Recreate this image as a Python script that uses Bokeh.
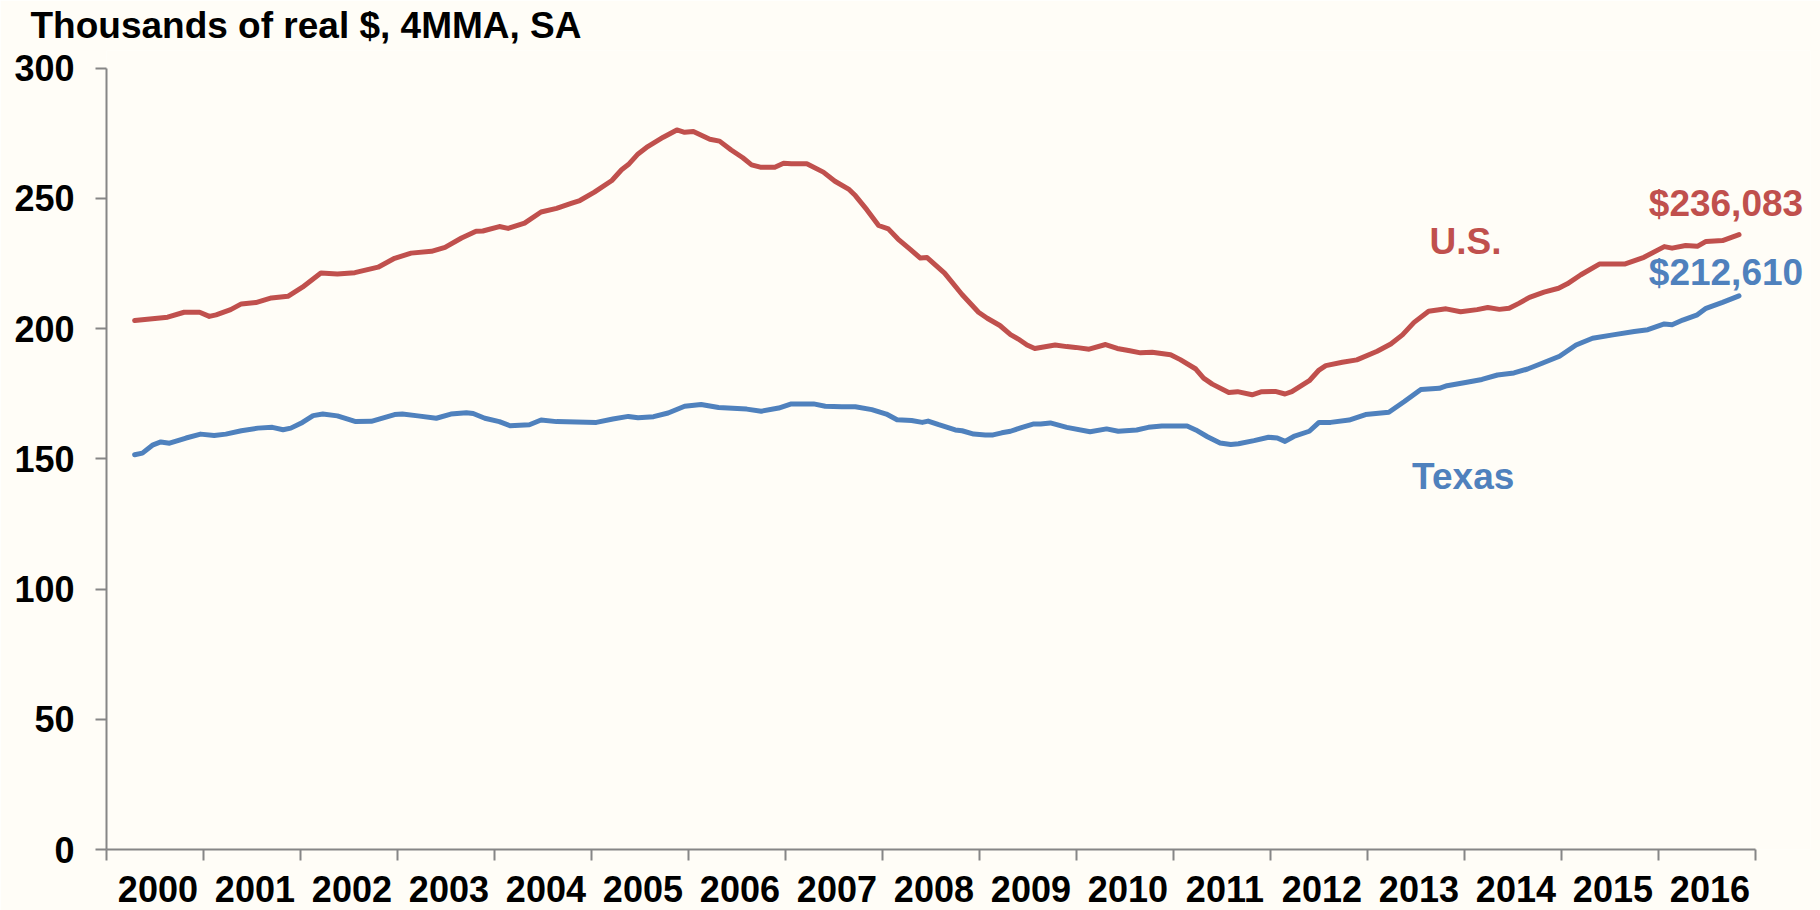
from bokeh.plotting import figure
from bokeh.models import FixedTicker, Range1d
from bokeh.core.properties import value
from bokeh.embed import file_html
from bokeh.resources import INLINE

# ---- data ----
us_x = [2000.29, 2000.63, 2000.80, 2000.96, 2001.06, 2001.13, 2001.28, 2001.39, 2001.54, 2001.70,
        2001.87, 2002.02, 2002.21, 2002.38, 2002.56, 2002.80, 2002.97, 2003.14, 2003.35, 2003.49,
        2003.66, 2003.81, 2003.88, 2004.05, 2004.14, 2004.31, 2004.48, 2004.64, 2004.79, 2004.88,
        2005.03, 2005.21, 2005.31, 2005.38, 2005.48, 2005.58, 2005.74, 2005.88, 2005.96, 2006.05,
        2006.22, 2006.32, 2006.44, 2006.56, 2006.65, 2006.74, 2006.89, 2006.98, 2007.06, 2007.22,
        2007.39, 2007.51, 2007.65, 2007.72, 2007.84, 2007.96, 2008.06, 2008.16, 2008.28, 2008.39,
        2008.46, 2008.64, 2008.82, 2008.99, 2009.08, 2009.21, 2009.32, 2009.40, 2009.49, 2009.57,
        2009.78, 2009.90, 2009.99, 2010.13, 2010.30, 2010.42, 2010.55, 2010.66, 2010.78, 2010.97,
        2011.07, 2011.23, 2011.31, 2011.40, 2011.57, 2011.66, 2011.81, 2011.91, 2012.05, 2012.15,
        2012.22, 2012.40, 2012.50, 2012.57, 2012.74, 2012.89, 2013.10, 2013.24, 2013.36, 2013.48,
        2013.63, 2013.81, 2013.96, 2014.13, 2014.24, 2014.36, 2014.46, 2014.56, 2014.67, 2014.82,
        2014.97, 2015.06, 2015.20, 2015.39, 2015.65, 2015.85, 2016.06, 2016.14, 2016.28, 2016.40,
        2016.49, 2016.66, 2016.83]
us_y = [203.1, 204.4, 206.3, 206.3, 204.7, 205.3, 207.3, 209.5, 210.0, 211.8,
        212.4, 215.9, 221.4, 221.0, 221.5, 223.6, 227.0, 229.0, 229.7, 231.2,
        234.8, 237.4, 237.5, 239.2, 238.5, 240.5, 244.8, 246.2, 248.1, 249.2,
        252.4, 256.9, 261.0, 263.0, 267.1, 269.9, 273.5, 276.3, 275.4, 275.7,
        272.7, 272.0, 268.6, 265.6, 262.9, 262.0, 262.0, 263.5, 263.3, 263.3,
        260.1, 256.6, 253.6, 251.1, 245.6, 239.6, 238.3, 234.4, 230.6, 227.1,
        227.3, 221.3, 213.1, 206.3, 204.0, 201.2, 197.7, 196.0, 193.7, 192.4,
        193.7, 193.1, 192.8, 192.1, 193.9, 192.4, 191.5, 190.7, 190.9, 190.0,
        188.1, 184.5, 181.0, 178.7, 175.5, 175.8, 174.6, 175.8, 175.9, 174.9,
        175.8, 180.0, 184.1, 185.8, 187.1, 188.0, 191.3, 194.1, 197.6, 202.4,
        206.7, 207.6, 206.5, 207.3, 208.1, 207.4, 207.8, 209.7, 212.0, 214.0,
        215.5, 217.2, 220.7, 224.8, 224.8, 227.4, 231.5, 230.9, 231.9, 231.6,
        233.5, 233.8, 236.1]

tx_x = [2000.29, 2000.37, 2000.48, 2000.56, 2000.65, 2000.82, 2000.97, 2001.11, 2001.23, 2001.39,
        2001.56, 2001.71, 2001.82, 2001.90, 2002.02, 2002.13, 2002.23, 2002.38, 2002.57, 2002.73,
        2002.97, 2003.05, 2003.21, 2003.40, 2003.55, 2003.71, 2003.78, 2003.90, 2004.05, 2004.16,
        2004.36, 2004.48, 2004.64, 2005.05, 2005.22, 2005.38, 2005.48, 2005.64, 2005.79, 2005.96,
        2006.13, 2006.31, 2006.60, 2006.75, 2006.93, 2007.06, 2007.29, 2007.41, 2007.58, 2007.72,
        2007.89, 2008.04, 2008.15, 2008.30, 2008.41, 2008.47, 2008.58, 2008.75, 2008.82, 2008.94,
        2009.06, 2009.14, 2009.23, 2009.32, 2009.44, 2009.56, 2009.63, 2009.73, 2009.90, 2010.14,
        2010.31, 2010.43, 2010.62, 2010.74, 2010.88, 2011.14, 2011.23, 2011.35, 2011.48, 2011.59,
        2011.67, 2011.83, 2011.98, 2012.07, 2012.15, 2012.24, 2012.40, 2012.50, 2012.62, 2012.81,
        2012.98, 2013.22, 2013.38, 2013.55, 2013.74, 2013.82, 2014.01, 2014.18, 2014.34, 2014.51,
        2014.65, 2014.80, 2014.98, 2015.15, 2015.32, 2015.53, 2015.75, 2015.89, 2016.06, 2016.14,
        2016.25, 2016.40, 2016.49, 2016.66, 2016.83]
tx_y = [151.6, 152.2, 155.4, 156.5, 156.0, 158.0, 159.5, 159.0, 159.5, 160.8,
        161.8, 162.1, 161.2, 161.8, 164.0, 166.6, 167.2, 166.5, 164.3, 164.4,
        167.0, 167.2, 166.5, 165.6, 167.2, 167.7, 167.4, 165.6, 164.3, 162.7,
        163.1, 164.9, 164.3, 164.0, 165.3, 166.3, 165.8, 166.2, 167.6, 170.2,
        170.9, 169.7, 169.1, 168.3, 169.5, 171.1, 171.1, 170.2, 170.0, 170.0,
        168.9, 167.2, 165.0, 164.7, 164.0, 164.5, 163.1, 161.1, 160.8, 159.5,
        159.2, 159.2, 160.0, 160.6, 162.1, 163.4, 163.4, 163.8, 162.1, 160.4,
        161.5, 160.6, 161.1, 162.1, 162.6, 162.6, 161.1, 158.5, 156.1, 155.5,
        155.8, 157.0, 158.3, 158.0, 156.7, 158.6, 160.6, 164.0, 164.0, 164.9,
        167.0, 167.9, 172.0, 176.6, 177.1, 178.1, 179.3, 180.5, 182.2, 183.0,
        184.5, 186.7, 189.4, 193.7, 196.3, 197.6, 198.9, 199.6, 201.8, 201.5,
        203.3, 205.3, 207.8, 210.1, 212.6]

years = list(range(2000, 2017))
year_labels = [str(y) for y in years]
y_ticks = [0, 50, 100, 150, 200, 250, 300]

title_text = "Thousands of real $, 4MMA, SA"
us_name, tx_name = "U.S.", "Texas"
us_last_label = "$236,083"
tx_last_label = "$212,610"

RED = "#C0504D"
BLUE = "#4F81BD"
BG = "#FFFDF7"
AXIS = "#868686"
FONT = "Liberation Sans"

W, H = 1820, 910
BL, BR, BT, BB = 106, 10, 50, 61
px_per_year = 97.0
px_per_unit = 2.6043
frame_w = W - BL - BR
frame_h = H - BT - BB

p = figure(width=W, height=H, output_backend="svg", toolbar_location=None,
           x_range=Range1d(2000, 2000 + frame_w / px_per_year),
           y_range=Range1d(0, frame_h / px_per_unit),
           min_border_left=BL, min_border_right=BR, min_border_top=BT, min_border_bottom=BB,
           background_fill_color=BG, border_fill_color=BG, outline_line_color=None)

p.title.text = title_text
p.title.text_font = FONT
p.title.text_font_size = "37px"
p.title.text_font_style = "bold"
p.title.text_color = "black"
p.title.align = "left"
p.title.vertical_align = "top"
p.title.offset = -76
p.title.standoff = 6

p.xgrid.visible = False
p.ygrid.visible = False

# x axis: year boundaries as (minor) ticks, labels centred in each year
label_pos = [y + 0.53 for y in years]
p.xaxis.ticker = FixedTicker(ticks=label_pos, minor_ticks=list(range(2000, 2018)))
p.xaxis.major_label_overrides = {pos: lab for pos, lab in zip(label_pos, year_labels)}
p.xaxis.bounds = (2000, 2017)
p.xaxis.major_tick_out = 0
p.xaxis.major_tick_in = 0
p.xaxis.minor_tick_out = 11
p.xaxis.minor_tick_in = 0
p.xaxis.minor_tick_line_color = AXIS
p.xaxis.minor_tick_line_width = 2
p.xaxis.major_label_standoff = 15

p.yaxis.ticker = FixedTicker(ticks=y_ticks)
p.yaxis.bounds = (0, 300)
p.yaxis.major_tick_out = 11
p.yaxis.major_tick_in = 0
p.yaxis.minor_tick_line_color = None
p.yaxis.major_label_standoff = 21

for ax in (p.xaxis, p.yaxis):
    ax.axis_line_color = AXIS
    ax.axis_line_width = 2
    ax.major_tick_line_color = AXIS
    ax.major_tick_line_width = 2
    ax.major_label_text_font = FONT
    ax.major_label_text_font_size = "36px"
    ax.major_label_text_font_style = "bold"
    ax.major_label_text_color = "black"

p.line(us_x, us_y, line_color=RED, line_width=5, line_join="round", line_cap="round")
p.line(tx_x, tx_y, line_color=BLUE, line_width=5, line_join="round", line_cap="round")

# series annotations
def note(x, y, txt, color):
    p.text(x=[x], y=[y], text=[txt], text_color=color, text_font=value(FONT),
           text_font_size="37px", text_font_style="bold", text_baseline="alphabetic")

note(2013.64, 233.3, us_name, RED)
note(2013.46, 143.4, tx_name, BLUE)
note(2015.90, 247.9, us_last_label, RED)
note(2015.90, 221.7, tx_last_label, BLUE)

open("out.html", "w").write(file_html(p, INLINE))
